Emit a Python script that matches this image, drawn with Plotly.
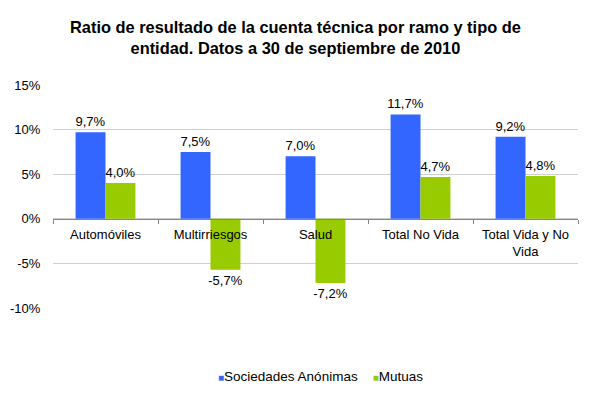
import plotly.graph_objects as go

categories = ["Automóviles", "Multirriesgos", "Salud", "Total No Vida", "Total Vida y No Vida"]
tick_labels = ["Automóviles", "Multirriesgos", "Salud", "Total No Vida", "Total Vida y No<br>Vida"]
series_names = ["Sociedades Anónimas", "Mutuas"]
sociedades = [9.7, 7.5, 7.0, 11.7, 9.2]
mutuas = [4.0, -5.7, -7.2, 4.7, 4.8]
y_ticks = [-10, -5, 0, 5, 10, 15]
y_tick_text = ["-10%", "-5%", "0%", "5%", "10%", "15%"]

FONT = "Liberation Sans, Arial, sans-serif"
BLUE = "#3366FF"
GREEN = "#99CC00"

fig = go.Figure()
fig.add_trace(go.Bar(
    x=categories, y=sociedades, name=series_names[0],
    marker=dict(color=BLUE, line=dict(width=0)),
    texttemplate="%{y:.1f}%", textposition="outside", constraintext="none",
    textfont=dict(size=13, color="black", family=FONT), cliponaxis=False,
    showlegend=False,
))
fig.add_trace(go.Bar(
    x=categories, y=mutuas, name=series_names[1],
    marker=dict(color=GREEN, line=dict(width=0)),
    texttemplate="%{y:.1f}%", textposition="outside", constraintext="none",
    textfont=dict(size=13, color="black", family=FONT), cliponaxis=False,
    showlegend=False,
))
# invisible carrier so the category axis drawn along the zero line gets its categories
fig.add_trace(go.Bar(
    x=categories, y=sociedades, xaxis="x2", yaxis="y",
    marker=dict(color="rgba(0,0,0,0)", line=dict(width=0)),
    showlegend=False, hoverinfo="skip",
))

legend_text = (
    f"<span style='color:{BLUE};font-size:10px'>■</span>{series_names[0]}"
    f"    <span style='color:{GREEN};font-size:10px'>■</span>{series_names[1]}"
)

# page body has an 8px margin, so the figure is sized and offset accordingly
fig.update_layout(
    width=583, height=387,
    margin=dict(l=45, r=13, t=77, b=87, autoexpand=False),
    paper_bgcolor="white", plot_bgcolor="white",
    separators=",.",
    font=dict(family=FONT, size=13, color="black"),
    title=dict(
        text="<b>Ratio de resultado de la cuenta técnica por ramo y tipo de<br>entidad. Datos a 30 de septiembre de 2010</b>",
        x=0.493, xanchor="center", y=0.935, yanchor="middle",
        font=dict(size=16.4, family=FONT, color="black"),
    ),
    barmode="group", bargap=0.43, bargroupgap=0,
    showlegend=False,
    annotations=[dict(
        text=legend_text, xref="paper", yref="paper", x=0.509, y=-0.309,
        xanchor="center", yanchor="middle", showarrow=False,
        font=dict(size=13.5, family=FONT, color="black"),
    )],
    xaxis=dict(showline=False, showticklabels=False, ticks="", showgrid=False,
               zeroline=False, automargin=False),
    xaxis2=dict(
        overlaying="x", anchor="free", position=0.4, side="bottom",
        type="category", categoryorder="array", categoryarray=categories,
        range=[-0.5, len(categories) - 0.5],
        showline=True, linecolor="#868686", linewidth=1,
        ticks="outside", tickson="boundaries", ticklen=4, tickcolor="#868686",
        tickmode="array", tickvals=categories, ticktext=tick_labels,
        tickfont=dict(size=13), ticklabelstandoff=4,
        showgrid=False, zeroline=False, layer="above traces", automargin=False,
    ),
    yaxis=dict(
        range=[-10, 15], tickmode="array", tickvals=y_ticks, ticktext=y_tick_text,
        showgrid=True, gridcolor="#D0D0D0", gridwidth=1, zeroline=False,
        showline=False, tickfont=dict(size=13), ticks="outside", ticklen=9,
        tickcolor="rgba(0,0,0,0)", automargin=False,
    ),
)

fig.write_html("out.html")
